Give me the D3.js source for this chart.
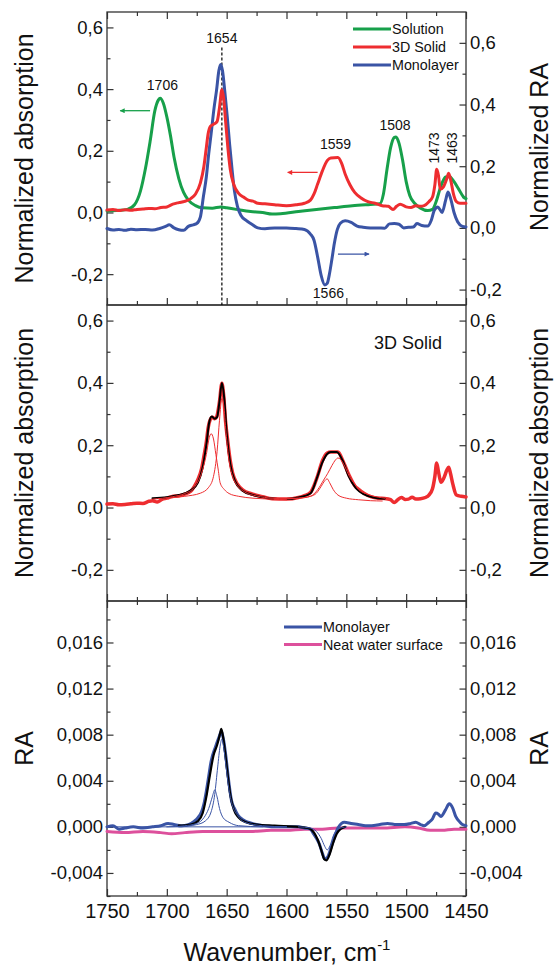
<!DOCTYPE html>
<html>
<head>
<meta charset="utf-8">
<script src="https://cdn.jsdelivr.net/npm/d3@7"></script>
<style>
  body { margin: 0; background: #fff; }
  svg { display: block; font-family: "Liberation Sans", Arial, sans-serif; }
</style>
</head>
<body>
<svg id="chart" width="557" height="965"></svg>
<script>
// ---- data: [wavenumber, value] ----

// top panel, left axis
const solution = [[1750,0.005],[1740,0.007],[1733,0.01],[1727,0.025],[1722,0.07],[1718,0.14],[1714,0.23],[1710,0.33],[1707,0.365],[1705.5,0.37],[1703,0.355],[1700,0.31],[1697,0.25],[1694,0.18],[1690,0.11],[1686,0.065],[1682,0.04],[1676,0.022],[1670,0.015],[1662,0.014],[1655,0.018],[1650,0.015],[1642,0.01],[1630,0.003],[1620,0.0],[1612,-0.005],[1605,-0.004],[1590,0.003],[1575,0.01],[1560,0.016],[1545,0.022],[1530,0.026],[1522,0.028],[1519,0.06],[1516,0.14],[1513,0.21],[1510,0.243],[1508.5,0.245],[1506,0.225],[1503,0.17],[1500,0.1],[1497,0.055],[1493,0.03],[1488,0.014],[1482,0.006],[1478,0.01],[1475,0.035],[1471,0.085],[1467,0.115],[1464,0.117],[1460,0.1],[1456,0.075],[1452,0.05],[1450,0.045]]

const solid3d = [[1750,0.008],[1745,0.01],[1740,0.006],[1735,0.009],[1730,0.007],[1725,0.01],[1720,0.011],[1715,0.013],[1710,0.012],[1705,0.016],[1700,0.018],[1695,0.027],[1690,0.032],[1685,0.036],[1680,0.045],[1676,0.06],[1672,0.095],[1669,0.15],[1667,0.21],[1665.5,0.255],[1663.5,0.28],[1660,0.288],[1658,0.295],[1656,0.34],[1654,0.398],[1652.5,0.37],[1651,0.3],[1649,0.21],[1647,0.14],[1644,0.09],[1640,0.062],[1636,0.05],[1632,0.04],[1628,0.037],[1624,0.03],[1618,0.028],[1610,0.025],[1600,0.022],[1592,0.025],[1585,0.03],[1580,0.04],[1577,0.06],[1574,0.092],[1570,0.135],[1566,0.168],[1563,0.177],[1557,0.178],[1554,0.16],[1551,0.125],[1547,0.09],[1543,0.065],[1538,0.048],[1532,0.035],[1526,0.03],[1520,0.022],[1515,0.02],[1511,0.01],[1508,0.02],[1505,0.027],[1500,0.018],[1496,0.016],[1492,0.022],[1488,0.02],[1485,0.022],[1481,0.035],[1478,0.05],[1476,0.09],[1474.5,0.14],[1473,0.12],[1471.5,0.075],[1469,0.082],[1466,0.11],[1464.5,0.127],[1462.5,0.1],[1460.5,0.06],[1458,0.035],[1455,0.03],[1450,0.03]]

// top panel, right axis (normalized RA)
const monolayerNorm = [[1750,-0.002],[1745,-0.007],[1740,-0.005],[1735,-0.008],[1730,-0.004],[1725,-0.006],[1718,-0.005],[1712,-0.007],[1706,-0.002],[1701,0.005],[1698,0.01],[1694,0.0],[1690,-0.006],[1686,-0.008],[1682,0.005],[1678,0.01],[1675,0.014],[1672,0.035],[1669.5,0.1],[1667,0.165],[1665,0.24],[1663,0.305],[1660.5,0.39],[1658.5,0.445],[1656.5,0.51],[1655,0.53],[1653.5,0.51],[1651.5,0.44],[1649.5,0.36],[1647.5,0.27],[1645.5,0.19],[1643.5,0.12],[1641,0.07],[1638,0.04],[1634,0.025],[1629,0.012],[1624,0.0],[1618,-0.003],[1610,0.0],[1600,0.0],[1592,-0.002],[1585,-0.005],[1580,-0.02],[1577,-0.04],[1574,-0.094],[1571,-0.155],[1568,-0.185],[1566,-0.18],[1564,-0.147],[1562,-0.1],[1560,-0.05],[1557.5,-0.005],[1555,0.015],[1551,0.023],[1546,0.018],[1541,0.006],[1536,0.002],[1530,0.0],[1524,0.0],[1518,-0.001],[1514,0.013],[1510,0.014],[1506,0.012],[1502,0.0],[1498,0.002],[1494,0.003],[1491,0.014],[1487,0.008],[1482,0.006],[1479,0.025],[1476.5,0.057],[1473.5,0.068],[1470,0.05],[1467,0.09],[1465,0.116],[1462.5,0.09],[1460,0.05],[1457,0.02],[1453,0.005],[1450,0.003]]

// middle panel: 3D solid spectrum, fit and its bands
const solidRaw = [[1750,0.011],[1745,0.012],[1740,0.009],[1735,0.01],[1730,0.012],[1725,0.014],[1720,0.013],[1715,0.02],[1712,0.022],[1708,0.018],[1704,0.026],[1700,0.03],[1696,0.035],[1690,0.038],[1685,0.043],[1680,0.052],[1677,0.068],[1674,0.09],[1671,0.124],[1669,0.165],[1667,0.21],[1665.5,0.255],[1664,0.28],[1662,0.29],[1660,0.285],[1658.5,0.29],[1656,0.34],[1654,0.399],[1652.5,0.36],[1651,0.28],[1649,0.21],[1647,0.15],[1645,0.11],[1641,0.075],[1636,0.055],[1630,0.045],[1620,0.035],[1612,0.028],[1600,0.027],[1590,0.032],[1585,0.038],[1580,0.048],[1577,0.07],[1574,0.102],[1570,0.15],[1566,0.175],[1563,0.178],[1557,0.178],[1553,0.151],[1547.5,0.102],[1543,0.07],[1540,0.059],[1535,0.045],[1529,0.034],[1523,0.03],[1518,0.029],[1513,0.025],[1510,0.016],[1507,0.025],[1504,0.032],[1501,0.026],[1498,0.027],[1495,0.033],[1492,0.027],[1488,0.028],[1484,0.032],[1481,0.04],[1478,0.06],[1476,0.1],[1474.5,0.143],[1473,0.115],[1471,0.081],[1468.5,0.095],[1466,0.12],[1464.5,0.129],[1463,0.11],[1461,0.075],[1458,0.04],[1454,0.036],[1450,0.034]]

const solidFit = [[1712,0.03],[1700,0.033],[1690,0.04],[1680,0.055],[1674,0.08],[1670,0.13],[1667,0.2],[1664.5,0.275],[1662.5,0.292],[1660,0.285],[1658,0.29],[1656,0.34],[1654,0.4],[1652,0.35],[1650,0.24],[1647,0.14],[1643,0.085],[1637,0.055],[1628,0.04],[1615,0.03],[1600,0.027],[1590,0.032],[1580,0.045],[1575,0.09],[1570,0.145],[1566,0.172],[1563,0.178],[1558,0.178],[1553,0.15],[1548,0.1],[1542,0.062],[1535,0.042],[1528,0.033],[1518,0.028]]

const solidBand1663 = [[1712,0.027],[1695,0.035],[1685,0.045],[1677,0.065],[1671,0.11],[1667,0.17],[1664.5,0.225],[1663,0.237],[1661,0.22],[1659,0.17],[1657,0.12],[1655.5,0.08],[1652,0.058],[1648,0.045],[1640,0.036],[1628,0.03],[1612,0.027],[1600,0.025]]
const solidBand1654 = [[1700,0.03],[1685,0.036],[1672,0.046],[1665,0.065],[1661,0.1],[1658,0.18],[1656,0.28],[1654,0.35],[1652.5,0.33],[1650.5,0.24],[1648,0.15],[1645,0.1],[1641,0.07],[1635,0.05],[1625,0.037],[1612,0.03],[1600,0.028]]
const solidBand1566 = [[1610,0.027],[1590,0.03],[1580,0.036],[1575,0.046],[1571,0.068],[1568,0.086],[1566,0.092],[1564,0.08],[1561,0.058],[1557,0.04],[1550,0.03],[1540,0.025],[1530,0.022],[1520,0.021]]
const solidBand1557 = [[1610,0.027],[1590,0.03],[1580,0.036],[1574,0.057],[1569,0.088],[1565.5,0.11],[1562,0.135],[1559,0.153],[1557,0.159],[1555,0.155],[1551,0.13],[1547.5,0.1],[1543,0.075],[1540,0.059],[1534,0.045],[1529,0.038],[1523,0.033],[1518,0.03]]

// bottom panel: RA of the monolayer, fit and bands, neat water
const monolayerRA = [[1750,0.0],[1745,0.0001],[1740,-0.0002],[1735,-0.0001],[1728,0.0],[1720,-0.0001],[1712,0.0],[1705,0.0001],[1699,0.0003],[1694,0.0002],[1688,0.0001],[1682,0.0002],[1677,0.0005],[1674,0.0008],[1671,0.0013],[1669,0.002],[1667,0.0031],[1665,0.0044],[1663,0.0057],[1659.5,0.0069],[1656,0.0079],[1654.5,0.0083],[1652.5,0.0075],[1650.5,0.006],[1649,0.0046],[1646,0.0023],[1643,0.0015],[1640.5,0.001],[1636,0.0006],[1632,0.0004],[1625,0.0002],[1618,0.0001],[1610,0.0],[1600,0.0],[1590,0.0],[1585,-0.0001],[1580,-0.0002],[1578,-0.0005],[1575,-0.001],[1572.5,-0.0015],[1570,-0.0023],[1567.8,-0.0028],[1565.5,-0.0026],[1562.8,-0.0018],[1560,-0.0009],[1557,-0.0001],[1554,0.0003],[1551.7,0.0004],[1546,0.0003],[1540,0.0002],[1534,0.0001],[1529,0.0001],[1522,0.0002],[1515.6,0.0003],[1508,0.0002],[1501.7,0.0002],[1496,0.0003],[1492,0.0004],[1488,0.0002],[1485,0.0001],[1481,0.0004],[1478,0.0007],[1475.3,0.0012],[1473,0.0011],[1471,0.0009],[1467,0.0015],[1464,0.002],[1461,0.0016],[1458.6,0.0009],[1455,0.0004],[1453,0.0002],[1450,0.0001]]

const waterRA = [[1750,-0.0004],[1735,-0.0005],[1720,-0.0004],[1705,-0.0005],[1696,-0.0006],[1685,-0.0005],[1670,-0.0004],[1650,-0.0004],[1630,-0.0004],[1613,-0.0003],[1600,-0.0003],[1585,-0.0002],[1570,-0.0002],[1557,-0.0001],[1540,-0.0001],[1520,-0.0001],[1501,0.0],[1490,-0.0001],[1480,-0.0003],[1470,-0.0003],[1460,-0.0002],[1450,-0.0002]]

const monolayerFit = [[1690,0.0001],[1680,0.0002],[1674,0.0005],[1670,0.0012],[1667,0.0026],[1664,0.0045],[1661,0.0062],[1658,0.0071],[1655.5,0.0081],[1654.5,0.0085],[1653,0.0078],[1651,0.0062],[1649,0.0044],[1647,0.0028],[1644,0.0015],[1640,0.0008],[1634,0.0004],[1625,0.0002],[1610,0.0001],[1590,0.0],[1582,-0.0001],[1577,-0.0005],[1574,-0.0011],[1571,-0.002],[1568.5,-0.0028],[1566.5,-0.0029],[1564,-0.0024],[1561,-0.0014],[1558,-0.0006],[1555,-0.0002],[1551,0.0]]

const raBaseline = [[1750,0.0],[1600,0.0]]
const raBand1660 = [[1700,0.0],[1685,0.0001],[1675,0.0003],[1669,0.0008],[1665,0.0016],[1662,0.0026],[1660,0.0032],[1658,0.0026],[1656,0.0016],[1653,0.0008],[1648,0.0004],[1640,0.0001],[1620,0.0]]
const raBand1654 = [[1690,0.0],[1675,0.0002],[1668,0.0005],[1663,0.0013],[1660,0.0028],[1657.5,0.0052],[1655.5,0.007],[1654,0.0076],[1652.5,0.0069],[1650.5,0.0052],[1648,0.0032],[1645,0.0018],[1641,0.001],[1635,0.0004],[1620,0.0001],[1600,0.0]]
const raBand1566 = [[1590,0.0],[1580,-0.0001],[1575,-0.0004],[1571,-0.001],[1568,-0.0017],[1566,-0.002],[1563.5,-0.0016],[1561,-0.0008],[1557,-0.0002],[1550,0.0]]

// ---- layout ----
const x = d3.scaleLinear().domain([1750, 1450]).range([107, 466])
const loc = d3.formatLocale({decimal: ",", thousands: ".", grouping: [3], currency: ["", ""], minus: "-"})
const fmt1 = loc.format(".1f"), fmt3 = loc.format(".3f")

const GREEN = "#17a04a", RED = "#ee2d30", BLUE = "#3a54a5", PINK = "#dd509c"

const svg = d3.select("#chart")

const panels = [
  {top: 12, bottom: 305, yL: [-0.3, 0.65], yR: [-0.25, 0.7], major: [-0.2, 0, 0.2, 0.4, 0.6], minor: [-0.1, 0.1, 0.3, 0.5],
    fmt: fmt1, titleL: "Normalized absorption", titleR: "Normalized RA", titleRy: 147, topTicks: true},
  {top: 305, bottom: 601, yL: [-0.3, 0.65], yR: [-0.3, 0.65], major: [-0.2, 0, 0.2, 0.4, 0.6], minor: [-0.1, 0.1, 0.3, 0.5],
    fmt: fmt1, titleL: "Normalized absorption", titleR: "Normalized absorption", topTicks: false},
  {top: 601, bottom: 896, yL: [-0.006, 0.0196], yR: [-0.006, 0.0196],
    major: [-0.004, 0, 0.004, 0.008, 0.012, 0.016], minor: [-0.006, -0.002, 0.002, 0.006, 0.01, 0.014, 0.018],
    fmt: fmt3, titleL: "RA", titleR: "RA", topTicks: true}
]
panels.forEach(p => {
  p.y = d3.scaleLinear().domain(p.yL).range([p.bottom, p.top])
  p.y2 = d3.scaleLinear().domain(p.yR).range([p.bottom, p.top])
})

const xMajor = [1750, 1700, 1650, 1600, 1550, 1500, 1450]
const xMinor = [1725, 1675, 1625, 1575, 1525, 1475]

function axisGroup(g, at, horizontal) {
  return g.append("g").attr("transform", horizontal ? `translate(0,${at})` : `translate(${at},0)`)
}

function drawAxes(p, i) {
  const g = svg.append("g").attr("class", "axes")
  const yAxes = [
    {gen: d3.axisLeft, scale: p.y, at: 107},
    {gen: d3.axisRight, scale: p.y2, at: 466}
  ]
  yAxes.forEach(a => {
    axisGroup(g, a.at, false)
      .call(a.gen(a.scale).tickValues(p.major).tickFormat(p.fmt).tickSizeInner(-6.5).tickSizeOuter(0).tickPadding(4))
      .attr("font-size", 18.5)
    axisGroup(g, a.at, false)
      .call(a.gen(a.scale).tickValues(p.minor.filter(v => v >= a.scale.domain()[0])).tickFormat("").tickSizeInner(-3.5).tickSizeOuter(0))
  })
  const xAxes = [{gen: d3.axisBottom, at: p.bottom, labels: i === 2}]
  if (p.topTicks) xAxes.push({gen: d3.axisTop, at: p.top, labels: false})
  xAxes.forEach(a => {
    axisGroup(g, a.at, true)
      .call(a.gen(x).tickValues(xMajor).tickFormat(a.labels ? d3.format("d") : "").tickSizeInner(-7).tickSizeOuter(0).tickPadding(8))
      .attr("font-size", 20)
    axisGroup(g, a.at, true)
      .call(a.gen(x).tickValues(xMinor).tickFormat("").tickSizeInner(-4).tickSizeOuter(0))
  })
  g.selectAll("g").attr("font-family", null)
  g.selectAll(".domain").remove()
  g.selectAll(".tick line").attr("stroke", "#333").attr("stroke-width", 1.2)
  g.selectAll("text").attr("fill", "#111")

  svg.append("rect").attr("x", 107).attr("y", p.top).attr("width", 466 - 107).attr("height", p.bottom - p.top)
    .attr("fill", "none").attr("stroke", "#333").attr("stroke-width", 1.3)

  const cy = (p.top + p.bottom) / 2
  svg.append("text").attr("transform", `translate(33,${cy}) rotate(-90)`).attr("text-anchor", "middle")
    .attr("font-size", 25).attr("fill", "#111").text(p.titleL)
  svg.append("text").attr("transform", `translate(548,${p.titleRy || cy}) rotate(-90)`).attr("text-anchor", "middle")
    .attr("font-size", 25).attr("fill", "#111").text(p.titleR)
}
panels.forEach(drawAxes)

function plot(data, yScale, color, width) {
  const line = d3.line().x(d => x(d[0])).y(d => yScale(d[1])).curve(d3.curveMonotoneX)
  svg.append("path").datum(data).attr("d", line).attr("fill", "none")
    .attr("stroke", color).attr("stroke-width", width).attr("stroke-linejoin", "round").attr("stroke-linecap", "round")
}

const [p1, p2, p3] = panels

// panel 1
svg.append("line").attr("x1", x(1654)).attr("x2", x(1654)).attr("y1", p1.y(0.535)).attr("y2", p1.bottom)
  .attr("stroke", "#000").attr("stroke-width", 1.2).attr("stroke-dasharray", "3,2")
plot(solution, p1.y, GREEN, 3)
plot(monolayerNorm, p1.y2, BLUE, 3)
plot(solid3d, p1.y, RED, 3)

// panel 2
plot(solidRaw, p2.y, RED, 3.5)
plot(solidFit, p2.y, "#000", 2)
;[solidBand1663, solidBand1654, solidBand1566, solidBand1557].forEach(b => plot(b, p2.y, RED, 1))

// panel 3
plot(waterRA, p3.y, PINK, 3)
plot(monolayerRA, p3.y, BLUE, 3)
plot(monolayerFit, p3.y, "#000", 2.2)
;[raBaseline, raBand1660, raBand1654, raBand1566].forEach(b => plot(b, p3.y, BLUE, 1))

// peak labels
const peakLabels = [
  {t: "1654", wn: 1654, v: 0.565, s: p1.y},
  {t: "1706", wn: 1703.7, v: 0.412, s: p1.y},
  {t: "1559", wn: 1559, v: 0.223, s: p1.y},
  {t: "1508", wn: 1509.3, v: 0.282, s: p1.y},
  {t: "1566", wn: 1565, v: -0.21, s: p1.y2},
  {t: "1473", wn: 1476.7, v: 0.209, s: p1.y, rot: true},
  {t: "1463", wn: 1461.7, v: 0.209, s: p1.y, rot: true}
]
svg.append("g").selectAll("text").data(peakLabels).join("text")
  .attr("transform", d => `translate(${x(d.wn)},${d.s(d.v)})` + (d.rot ? " rotate(-90)" : ""))
  .attr("text-anchor", "middle").attr("dominant-baseline", "central")
  .attr("font-size", 14).attr("fill", "#111").text(d => d.t)

// arrows pointing to the axis each curve belongs to
const arrows = [
  {from: 1714, to: 1739, v: 0.33, s: p1.y, c: GREEN},
  {from: 1574, to: 1599, v: 0.13, s: p1.y, c: RED},
  {from: 1557, to: 1531, v: -0.085, s: p1.y2, c: BLUE}
]
const defs = svg.append("defs")
arrows.forEach((a, i) => {
  defs.append("marker").attr("id", "ah" + i).attr("viewBox", "0 0 10 10").attr("refX", 9).attr("refY", 5)
    .attr("markerWidth", 7).attr("markerHeight", 5).attr("orient", "auto").attr("markerUnits", "userSpaceOnUse")
    .append("path").attr("d", "M0,0L10,5L0,10Z").attr("fill", a.c)
  svg.append("line").attr("x1", x(a.from)).attr("x2", x(a.to)).attr("y1", a.s(a.v)).attr("y2", a.s(a.v))
    .attr("stroke", a.c).attr("stroke-width", 1.3).attr("marker-end", `url(#ah${i})`)
})

// legends
function legend(items, x0, y0, dy) {
  const g = svg.append("g")
  items.forEach((it, i) => {
    const yy = y0 + i * dy
    g.append("line").attr("x1", x0).attr("x2", x0 + 38).attr("y1", yy).attr("y2", yy).attr("stroke", it.c).attr("stroke-width", 3)
    g.append("text").attr("x", x0 + 39).attr("y", yy).attr("dominant-baseline", "central")
      .attr("font-size", 14.3).attr("fill", "#111").text(it.t)
  })
}
legend([{t: "Solution", c: GREEN}, {t: "3D Solid", c: RED}, {t: "Monolayer", c: BLUE}], 353, 29, 18)
legend([{t: "Monolayer", c: BLUE}, {t: "Neat water surface", c: PINK}], 284, 627, 17.6)

svg.append("text").attr("x", 374).attr("y", 343).attr("dominant-baseline", "central")
  .attr("font-size", 18).attr("fill", "#111").text("3D Solid")

// x title
const xt = svg.append("text").attr("x", 287).attr("y", 961).attr("text-anchor", "middle")
  .attr("font-size", 25).attr("fill", "#111")
xt.append("tspan").text("Wavenumber, cm")
xt.append("tspan").attr("dy", -11).attr("font-size", 15).text("-1")
</script>
</body>
</html>
